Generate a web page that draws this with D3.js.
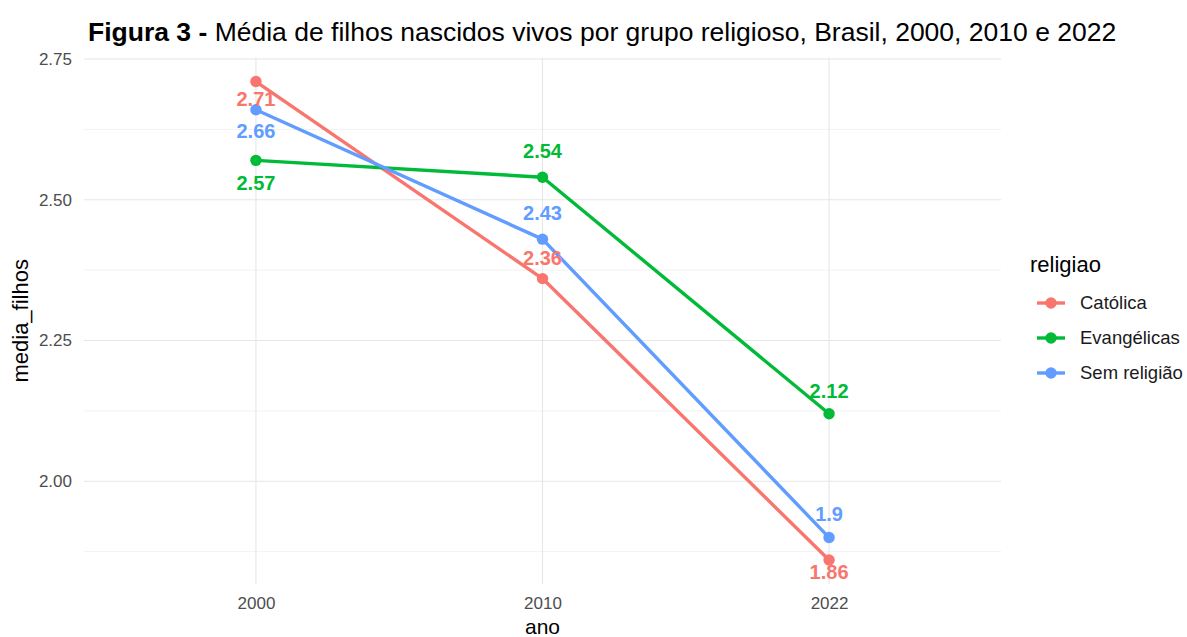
<!DOCTYPE html>
<html>
<head>
<meta charset="utf-8">
<script src="https://cdn.jsdelivr.net/npm/d3@7"></script>
<style>
  body { margin: 0; background: #fff; }
  svg { font-family: "Liberation Sans", Arial, sans-serif; }
</style>
</head>
<body>
<div id="chart-area"></div>
<script>
// data
var anos = ["2000", "2010", "2022"];
var religioes = ["Católica", "Evangélicas", "Sem religião"];
var catolica = [2.71, 2.36, 1.86];
var evangelicas = [2.57, 2.54, 2.12];
var semReligiao = [2.66, 2.43, 1.90];
var yTicks = [2.00, 2.25, 2.50, 2.75];

// label placement (style only): pixel nudge from point
var labelNudge = {
    "Católica": [17, -21, 12],
    "Evangélicas": [22, -26, -23],
    "Sem religião": [21, -26, -24]
};

var cores = ["#F8766D", "#00BA38", "#619CFF"];

var width = 1187, height = 637;
var panel = { left: 84, right: 1001, top: 57.6, bottom: 584 };

var svg = d3.select("#chart-area").append("svg")
    .attr("width", width)
    .attr("height", height);

var series = [catolica, evangelicas, semReligiao].map(function(vals, i) {
    return { nome: religioes[i], cor: cores[i], valores: vals.map(function(v, j) { return { ano: anos[j], v: v }; }) };
});

// scales
var x = d3.scalePoint()
    .domain(anos)
    .range([panel.left, panel.right])
    .padding(0.6);

var allVals = catolica.concat(evangelicas, semReligiao);
var ext = d3.extent(allVals);
var pad = (ext[1] - ext[0]) * 0.05;
var y = d3.scaleLinear()
    .domain([ext[0] - pad, ext[1] + pad])
    .range([panel.bottom, panel.top]);

// grid: minor
var minor = d3.range(yTicks[0] - 0.125, yTicks[yTicks.length - 1] + 0.01, 0.25)
    .filter(function(d) { return d >= y.domain()[0] && d <= y.domain()[1]; });
svg.append("g").selectAll("line").data(minor).enter().append("line")
    .attr("x1", panel.left).attr("x2", panel.right)
    .attr("y1", function(d) { return y(d); }).attr("y2", function(d) { return y(d); })
    .attr("stroke", "#f2f2f2").attr("stroke-width", 1);

// grid: major
svg.append("g").selectAll("line").data(yTicks).enter().append("line")
    .attr("x1", panel.left).attr("x2", panel.right)
    .attr("y1", function(d) { return y(d); }).attr("y2", function(d) { return y(d); })
    .attr("stroke", "#e6e6e6").attr("stroke-width", 1.1);
svg.append("g").selectAll("line").data(anos).enter().append("line")
    .attr("x1", function(d) { return x(d); }).attr("x2", function(d) { return x(d); })
    .attr("y1", panel.top).attr("y2", panel.bottom)
    .attr("stroke", "#e6e6e6").attr("stroke-width", 1.1);

// axes (no domain lines, no ticks like theme_minimal)
var yAxis = svg.append("g")
    .attr("transform", "translate(" + panel.left + ",0)")
    .call(d3.axisLeft(y).tickValues(yTicks).tickFormat(d3.format(".2f")).tickSize(0).tickPadding(12));
var xAxis = svg.append("g")
    .attr("transform", "translate(0," + panel.bottom + ")")
    .call(d3.axisBottom(x).tickSize(0).tickPadding(13));
[xAxis, yAxis].forEach(function(a) {
    a.attr("font-size", null).attr("font-family", null);
    a.select(".domain").remove();
    a.selectAll("text").attr("fill", "#4d4d4d").style("font-size", "17px");
});

// lines
var line = d3.line()
    .x(function(d) { return x(d.ano); })
    .y(function(d) { return y(d.v); });

var g = svg.append("g");
g.selectAll("path.serie").data(series).enter().append("path")
    .attr("class", "serie")
    .attr("d", function(d) { return line(d.valores); })
    .attr("fill", "none")
    .attr("stroke", function(d) { return d.cor; })
    .attr("stroke-width", 3.4)
    .attr("stroke-linejoin", "round");

series.forEach(function(s) {
    g.selectAll(null).data(s.valores).enter().append("circle")
        .attr("cx", function(d) { return x(d.ano); })
        .attr("cy", function(d) { return y(d.v); })
        .attr("r", 5.7)
        .attr("fill", s.cor);
});

// value labels
series.forEach(function(s) {
    g.selectAll(null).data(s.valores).enter().append("text")
        .attr("x", function(d) { return x(d.ano); })
        .attr("y", function(d, i) { return y(d.v) + labelNudge[s.nome][i]; })
        .attr("dy", "0.36em")
        .attr("text-anchor", "middle")
        .attr("font-weight", "bold")
        .attr("font-size", "20px")
        .attr("fill", s.cor)
        .text(function(d) { return String(d.v); });
});

// title
var title = svg.append("text")
    .attr("x", 88).attr("y", 41)
    .attr("font-size", "26.5px")
    .attr("fill", "#000");
title.append("tspan").attr("font-weight", "bold").text("Figura 3 - ");
title.append("tspan").text("Média de filhos nascidos vivos por grupo religioso, Brasil, 2000, 2010 e 2022");

// axis titles
svg.append("text")
    .attr("x", (panel.left + panel.right) / 2).attr("y", 634)
    .attr("text-anchor", "middle")
    .attr("font-size", "21px")
    .text("ano");
svg.append("text")
    .attr("transform", "translate(" + 28 + " " + (panel.top + panel.bottom) / 2 + ") rotate(-90)")
    .attr("text-anchor", "middle")
    .attr("font-size", "22px")
    .text("media_filhos");

// legend
var legend = svg.append("g").attr("transform", "translate(1030 0)");
legend.append("text")
    .attr("x", 0).attr("y", 272)
    .attr("font-size", "22px")
    .text("religiao");
var items = legend.selectAll("g.item").data(series).enter().append("g")
    .attr("class", "item")
    .attr("transform", function(d, i) { return "translate(0 " + (303 + i * 35) + ")"; });
items.append("line")
    .attr("x1", 7).attr("x2", 35)
    .attr("stroke", function(d) { return d.cor; })
    .attr("stroke-width", 3.4);
items.append("circle")
    .attr("cx", 21).attr("r", 5.7)
    .attr("fill", function(d) { return d.cor; });
items.append("text")
    .attr("x", 50).attr("dy", "0.35em")
    .attr("font-size", "18.5px")
    .attr("fill", "#1a1a1a")
    .text(function(d) { return d.nome; });
</script>
</body>
</html>
